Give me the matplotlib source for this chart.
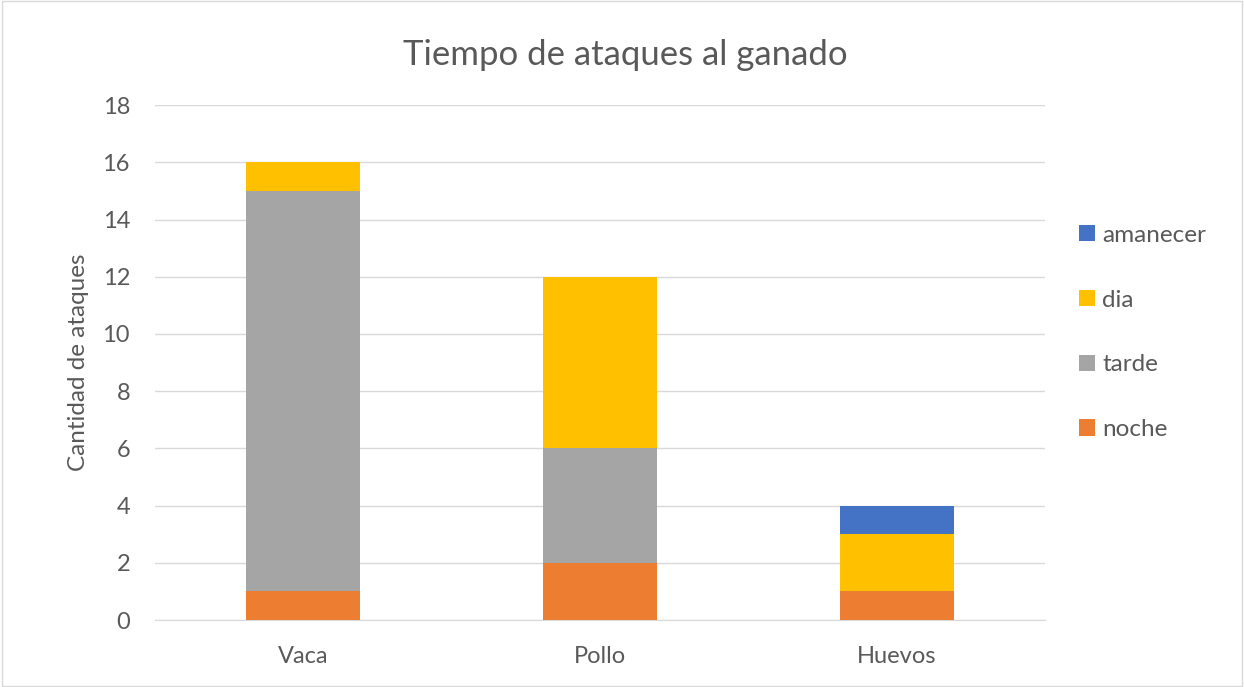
import matplotlib
matplotlib.use("Agg")
import matplotlib.pyplot as plt
import numpy as np

categories = ["Vaca", "Pollo", "Huevos"]
noche = [1, 2, 1]
tarde = [14, 4, 0]
dia = [1, 6, 2]
amanecer = [0, 0, 1]
series_names = ["noche", "tarde", "dia", "amanecer"]
colors = ["#ED7D31", "#A5A5A5", "#FFC000", "#4472C4"]
yticks = [0, 2, 4, 6, 8, 10, 12, 14, 16, 18]

plt.rcParams['font.family'] = ['Lato', 'DejaVu Sans']

fig = plt.figure(figsize=(12.44, 6.87), dpi=100)
ax = fig.add_axes([0.1246, 0.0975, 0.7154, 0.7495])

x = np.arange(len(categories))
bottom = np.zeros(len(categories))
handles = []
for name, vals, c in zip(series_names, [noche, tarde, dia, amanecer], colors):
    h = ax.bar(x, vals, 0.385, bottom=bottom, color=c, label=name, zorder=3)
    handles.append(h)
    bottom += np.array(vals)

ax.set_xlim(-0.5, 2.5)
ax.set_ylim(0, 18)
ax.set_yticks(yticks)
ax.set_xticks(x)
ax.set_xticklabels(categories)
ax.yaxis.grid(True, color="#D9D9D9", linewidth=1, zorder=0)
for s in ["top", "right", "left"]:
    ax.spines[s].set_visible(False)
ax.spines["bottom"].set_color("#D9D9D9")
ax.tick_params(axis="both", length=0, labelsize=17, labelcolor="#595959")
ax.tick_params(axis="y", pad=18)
ax.tick_params(axis="x", pad=19)
ax.set_ylabel("Cantidad de ataques", fontsize=17.5, color="#595959", labelpad=10)
fig.text(0.503, 0.92, "Tiempo de ataques al ganado", fontsize=25, color="#595959",
         ha="center", va="center")

leg = fig.legend(handles[::-1], series_names[::-1], loc="center left",
                 bbox_to_anchor=(0.850, 0.516), frameon=False, fontsize=17.5,
                 labelcolor="#595959", handlelength=0.65, handleheight=0.65,
                 labelspacing=1.8, handletextpad=0.3)

fig.patches.append(plt.Rectangle((0.002, 0.002), 0.996, 0.996, transform=fig.transFigure,
                                 fill=False, edgecolor="#D9D9D9", linewidth=1))

fig.savefig("out.png", dpi=100)
